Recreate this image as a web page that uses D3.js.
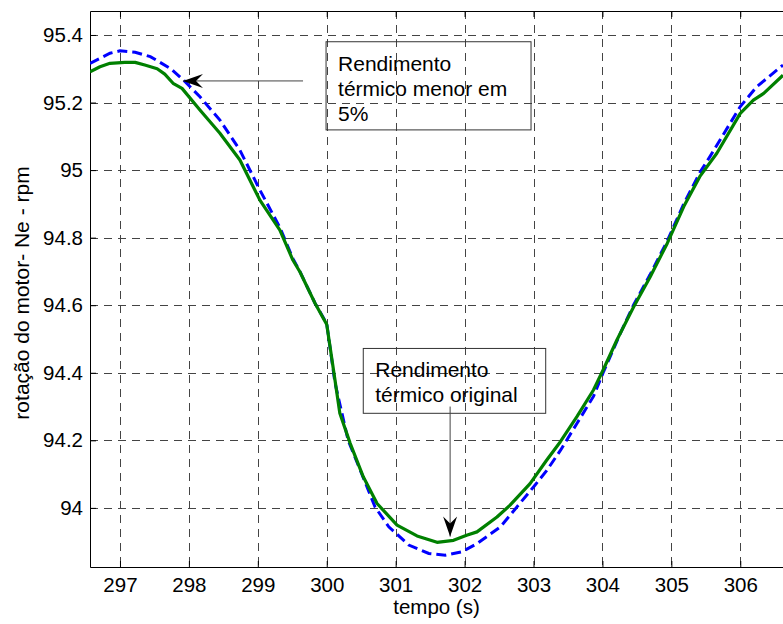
<!DOCTYPE html>
<html>
<head>
<meta charset="utf-8">
<script src="https://cdn.jsdelivr.net/npm/d3@7"></script>
<style>
  html, body { margin: 0; padding: 0; background: #fff; }
  svg { display: block; font-family: "Liberation Sans", Arial, sans-serif; }
</style>
</head>
<body>
<div id="chart"></div>
<script>
// data
const timeGreen = [296.565, 296.71, 296.855, 297.07, 297.22, 297.36, 297.54, 297.65, 297.77, 297.90,
  298.16, 298.45, 298.74, 299.03, 299.32, 299.51, 299.61, 299.83, 300.0, 300.12, 300.19, 300.34,
  300.53, 300.73, 301.02, 301.31, 301.60, 301.84, 302.03, 302.18, 302.47, 302.66, 302.95, 303.19,
  303.39, 303.63, 303.87, 304.01, 304.21, 304.45, 304.69, 304.94, 305.18, 305.42, 305.66, 306.0,
  306.19, 306.34, 306.62];
const rpmGreen = [95.291, 95.306, 95.316, 95.319, 95.319, 95.311, 95.300, 95.284, 95.257, 95.242,
  95.178, 95.109, 95.030, 94.911, 94.822, 94.733, 94.699, 94.606, 94.543, 94.378, 94.280, 94.191,
  94.092, 94.013, 93.949, 93.917, 93.898, 93.904, 93.919, 93.929, 93.973, 94.008, 94.072, 94.141,
  94.196, 94.270, 94.349, 94.408, 94.497, 94.594, 94.683, 94.783, 94.892, 94.983, 95.050, 95.168,
  95.207, 95.227, 95.281];

const timeBlue = [296.565, 296.855, 297.0, 297.22, 297.44, 297.73, 297.92, 298.16, 298.45, 298.74,
  299.03, 299.32, 299.51, 299.61, 299.83, 300.0, 300.12, 300.31, 300.51, 300.70, 300.90, 301.19,
  301.48, 301.72, 301.96, 302.18, 302.52, 302.76, 303.0, 303.19, 303.39, 303.63, 303.87, 304.01,
  304.26, 304.45, 304.69, 304.94, 305.18, 305.42, 305.56, 306.0, 306.24, 306.62];
const rpmBlue = [95.316, 95.346, 95.353, 95.349, 95.336, 95.301, 95.267, 95.217, 95.148, 95.059,
  94.941, 94.830, 94.738, 94.700, 94.606, 94.545, 94.370, 94.200, 94.100, 94.003, 93.944, 93.890,
  93.865, 93.860, 93.870, 93.894, 93.944, 94.003, 94.062, 94.110, 94.170, 94.250, 94.330, 94.400,
  94.517, 94.600, 94.690, 94.790, 94.900, 94.995, 95.040, 95.188, 95.247, 95.311];

const xTicks = [297, 298, 299, 300, 301, 302, 303, 304, 305, 306];
const yTicks = [94, 94.2, 94.4, 94.6, 94.8, 95, 95.2, 95.4];
const xLabel = "tempo (s)";
const yLabel = "rotação do motor- Ne - rpm";

// text boxes with arrows, in data units
const notes = [
  {lines: ["Rendimento", "térmico menor em", "5%"], box: [299.99, 95.380, 302.964, 95.119],
    from: [299.656, 95.264], to: [297.914, 95.264]},
  {lines: ["Rendimento", "térmico original"], box: [300.53, 94.472, 303.177, 94.280],
    from: [301.79, 94.30], to: [301.79, 93.915]}
];

const W = 783, H = 624;
const mLeft = 90, mTop = 11, mBottom = 567, mRight = 783;
const fs = 20.5;

const x = d3.scaleLinear().domain([296.565, 306.62]).range([mLeft, mRight]);
const y = d3.scaleLinear().domain([93.825, 95.471]).range([mBottom, mTop]);

const svg = d3.select("#chart").append("svg")
  .attr("width", W).attr("height", H);

svg.append("clipPath").attr("id", "plot")
  .append("rect").attr("x", mLeft).attr("y", mTop)
  .attr("width", mRight - mLeft).attr("height", mBottom - mTop);

// grid
let grid = svg.append("g").attr("stroke", "#444").attr("stroke-width", 1)
  .attr("stroke-dasharray", "8,6").attr("shape-rendering", "crispEdges");
grid.selectAll(".gx").data(xTicks).join("line")
  .attr("x1", d => Math.round(x(d)) + 0.5).attr("x2", d => Math.round(x(d)) + 0.5)
  .attr("y1", mTop).attr("y2", mBottom);
grid.selectAll(".gy").data(yTicks).join("line")
  .attr("y1", d => Math.round(y(d)) + 0.5).attr("y2", d => Math.round(y(d)) + 0.5)
  .attr("x1", mLeft).attr("x2", mRight);

// axes
let xAxis = d3.axisBottom(x).tickValues(xTicks).tickSize(-6).tickPadding(10).tickSizeOuter(0)
  .tickFormat(d3.format("d"));
let yAxis = d3.axisLeft(y).tickValues(yTicks).tickSize(-6).tickPadding(7).tickSizeOuter(0)
  .tickFormat(d => String(+d.toFixed(1)));

let gx = svg.append("g").attr("transform", `translate(0,${mBottom})`).call(xAxis);
let gy = svg.append("g").attr("transform", `translate(${mLeft},0)`).call(yAxis);
let gt = svg.append("g").attr("transform", `translate(0,${mTop})`)
  .call(d3.axisTop(x).tickValues(xTicks).tickSize(-6).tickSizeOuter(0).tickFormat(""));
[gx, gy, gt].forEach(g => {
  g.selectAll("text").attr("font-size", fs).attr("fill", "#000")
    .attr("font-family", "'Liberation Sans', Arial, sans-serif");
  g.selectAll("line").attr("stroke", "#000");
  g.select(".domain").attr("stroke", "#000");
});

// series
let line = d3.line().x(d => x(d[0])).y(d => y(d[1]));
let plot = svg.append("g").attr("clip-path", "url(#plot)").attr("fill", "none");
plot.append("path").datum(d3.zip(timeBlue, rpmBlue))
  .attr("d", line).attr("stroke", "#0000ff").attr("stroke-width", 3)
  .attr("stroke-dasharray", "10,5");
plot.append("path").datum(d3.zip(timeGreen, rpmGreen))
  .attr("d", line).attr("stroke", "#008000").attr("stroke-width", 3.2)
  .attr("stroke-linejoin", "round");

// axis labels
svg.append("text").attr("x", (mLeft + mRight) / 2).attr("y", 614)
  .attr("text-anchor", "middle").attr("font-size", fs).text(xLabel);
svg.append("text").attr("transform", `translate(29,${(mTop + mBottom) / 2 + 4}) rotate(-90)`)
  .attr("text-anchor", "middle").attr("font-size", 21).text(yLabel);

// annotations
let arrowHead = function (g, from, to) {
  let ang = Math.atan2(to[1] - from[1], to[0] - from[0]) * 180 / Math.PI;
  g.append("path").attr("d", "M0,0L-20,-7L-13,0L-20,7Z").attr("fill", "#000")
    .attr("transform", `translate(${to[0]},${to[1]}) rotate(${ang})`);
};
notes.forEach(function (n) {
  let g = svg.append("g");
  let bx = x(n.box[0]), by = y(n.box[1]);
  g.append("rect").attr("x", bx).attr("y", by)
    .attr("width", x(n.box[2]) - bx).attr("height", y(n.box[3]) - by)
    .attr("fill", "none").attr("stroke", "#333").attr("stroke-width", 1);
  n.lines.forEach((t, i) => {
    g.append("text").attr("x", bx + 12).attr("y", by + 29 + i * 25)
      .attr("font-size", 21).text(t);
  });
  let p0 = [x(n.from[0]), y(n.from[1])], p1 = [x(n.to[0]), y(n.to[1])];
  g.append("line").attr("x1", p0[0]).attr("y1", p0[1]).attr("x2", p1[0]).attr("y2", p1[1])
    .attr("stroke", "#444").attr("stroke-width", 1);
  arrowHead(g, p0, p1);
});
</script>
</body>
</html>
